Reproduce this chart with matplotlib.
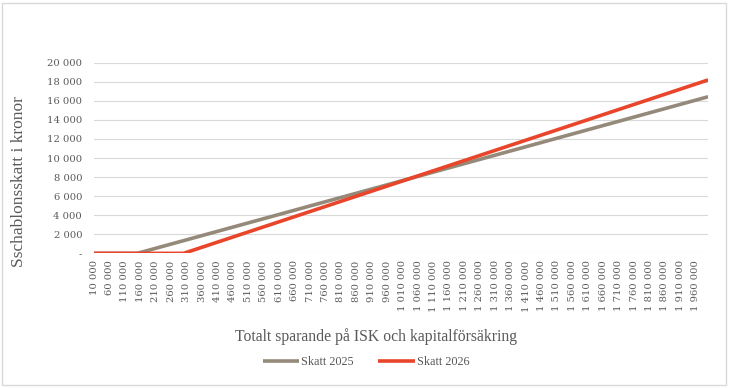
import matplotlib.pyplot as plt
from matplotlib.patches import Rectangle
from matplotlib.ticker import FuncFormatter

# ── DATA ────────────────────────────────────────────────────
# total savings on ISK / kapitalförsäkring, 10 000 .. 2 000 000 kr
sparande = [10000 * (i + 1) for i in range(200)]

skatt_2025 = [0] * 15 + [
    89, 178, 266, 355, 444, 533, 622, 710, 799,
    888, 977, 1066, 1154, 1243, 1332, 1421, 1510, 1598, 1687,
    1776, 1865, 1954, 2042, 2131, 2220, 2309, 2398, 2486, 2575,
    2664, 2753, 2842, 2930, 3019, 3108, 3197, 3286, 3374, 3463,
    3552, 3641, 3730, 3818, 3907, 3996, 4085, 4174, 4262, 4351,
    4440, 4529, 4618, 4706, 4795, 4884, 4973, 5062, 5150, 5239,
    5328, 5417, 5506, 5594, 5683, 5772, 5861, 5950, 6038, 6127,
    6216, 6305, 6394, 6482, 6571, 6660, 6749, 6838, 6926, 7015,
    7104, 7193, 7282, 7370, 7459, 7548, 7637, 7726, 7814, 7903,
    7992, 8081, 8170, 8258, 8347, 8436, 8525, 8614, 8702, 8791,
    8880, 8969, 9058, 9146, 9235, 9324, 9413, 9502, 9590, 9679,
    9768, 9857, 9946, 10034, 10123, 10212, 10301, 10390, 10478, 10567,
    10656, 10745, 10834, 10922, 11011, 11100, 11189, 11278, 11366, 11455,
    11544, 11633, 11722, 11810, 11899, 11988, 12077, 12166, 12254, 12343,
    12432, 12521, 12610, 12698, 12787, 12876, 12965, 13054, 13142, 13231,
    13320, 13409, 13498, 13586, 13675, 13764, 13853, 13942, 14030, 14119,
    14208, 14297, 14386, 14474, 14563, 14652, 14741, 14830, 14918, 15007,
    15096, 15185, 15274, 15362, 15451, 15540, 15629, 15718, 15806, 15895,
    15984, 16073, 16162, 16250, 16339, 16428,
]

skatt_2026 = [0] * 30 + [
    107, 214, 321, 428, 535, 642, 749, 856, 963,
    1070, 1177, 1284, 1391, 1498, 1605, 1712, 1819, 1926, 2033,
    2140, 2247, 2354, 2461, 2568, 2675, 2782, 2889, 2996, 3103,
    3210, 3317, 3424, 3531, 3638, 3745, 3852, 3959, 4066, 4173,
    4280, 4387, 4494, 4601, 4708, 4815, 4922, 5029, 5136, 5243,
    5350, 5457, 5564, 5671, 5778, 5885, 5992, 6099, 6206, 6313,
    6420, 6527, 6634, 6741, 6848, 6955, 7062, 7169, 7276, 7383,
    7490, 7597, 7704, 7811, 7918, 8025, 8132, 8239, 8346, 8453,
    8560, 8667, 8774, 8881, 8988, 9095, 9202, 9309, 9416, 9523,
    9630, 9737, 9844, 9951, 10058, 10165, 10272, 10379, 10486, 10593,
    10700, 10807, 10914, 11021, 11128, 11235, 11342, 11449, 11556, 11663,
    11770, 11877, 11984, 12091, 12198, 12305, 12412, 12519, 12626, 12733,
    12840, 12947, 13054, 13161, 13268, 13375, 13482, 13589, 13696, 13803,
    13910, 14017, 14124, 14231, 14338, 14445, 14552, 14659, 14766, 14873,
    14980, 15087, 15194, 15301, 15408, 15515, 15622, 15729, 15836, 15943,
    16050, 16157, 16264, 16371, 16478, 16585, 16692, 16799, 16906, 17013,
    17120, 17227, 17334, 17441, 17548, 17655, 17762, 17869, 17976, 18083,
    18190,
]

y_ticks = [0, 2000, 4000, 6000, 8000, 10000, 12000, 14000, 16000, 18000, 20000]


def sv(v):
    return f"{v:,.0f}".replace(",", " ")


# ── CHART ───────────────────────────────────────────────────
plt.rcParams['font.family'] = ['Liberation Serif', 'DejaVu Serif']
GREY = '#595959'

fig = plt.figure(figsize=(7.30, 3.88), dpi=100)
ax = fig.add_axes([0.1288, 0.347, 0.8412, 0.4914])

x = list(range(len(sparande)))
ax.plot(x, skatt_2025, color='#958a79', lw=2.6, label='Skatt 2025', solid_capstyle='butt')
ax.plot(x, skatt_2026, color='#e8452b', lw=2.6, label='Skatt 2026', solid_capstyle='butt')

ax.set_xlim(0, len(sparande) - 1)
ax.set_ylim(0, 20000)
ax.set_yticks(y_ticks)
ax.yaxis.set_major_formatter(FuncFormatter(lambda v, _: '-' if v == 0 else sv(v)))
ax.set_xticks(x[::5])
ax.set_xticklabels([sv(s) for s in sparande[::5]], rotation=90)

ax.grid(axis='y', color='#d9d9d9', lw=0.8)
ax.set_axisbelow(True)
for s in ax.spines.values():
    s.set_visible(False)
ax.tick_params(length=0, colors=GREY)
ax.tick_params(axis='y', pad=8.5)
ax.tick_params(axis='x', pad=5)
for lab in ax.get_xticklabels() + ax.get_yticklabels():
    lab.set_fontfamily('DejaVu Serif')
    lab.set_fontsize(7.2)

fig.text(19 / 730, 1 - 182 / 388, 'Sschablonsskatt i kronor', rotation=90,
         ha='center', va='center', fontsize=12.5, color=GREY)
fig.text(376 / 730, 1 - 337 / 388, 'Totalt sparande på ISK och kapitalförsäkring',
         ha='center', va='center', fontsize=11.3, color=GREY)

fig.legend(loc='center', bbox_to_anchor=(366 / 730, 1 - 362 / 388), ncol=2,
           frameon=False, fontsize=8.8, handlelength=3.0, handletextpad=0.15,
           columnspacing=2.0, labelcolor=GREY)

fig.patches.append(Rectangle((2 / 730, 3 / 388), 724 / 730, 382 / 388,
                             transform=fig.transFigure, fill=False,
                             edgecolor='#d9d9d9', lw=1))

plt.savefig('out.png', dpi=100)
